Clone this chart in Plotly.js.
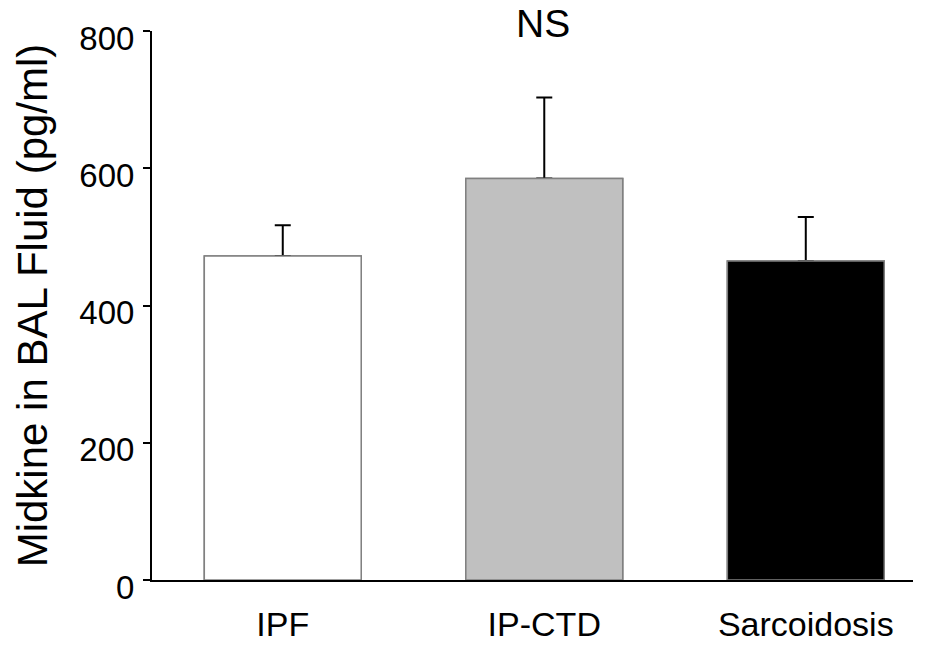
<!DOCTYPE html>
<html>
<head>
<meta charset="utf-8">
<script src="https://cdn.plot.ly/plotly-3.0.1.min.js"></script>
<style>html,body{margin:0;padding:0;background:#fff;}#chart{width:928px;height:647px;}</style>
</head>
<body>
<div id="chart"></div>
<script>
const categories = ['IPF', 'IP-CTD', 'Sarcoidosis'];
const means = [472, 585, 465];
const errors = [45, 118, 64];
const fillColors = ['#ffffff', '#c0c0c0', '#000000'];
const yTicks = [0, 200, 400, 600, 800];

const FONT = 'Liberation Sans, Arial, sans-serif';

const errTrace = {
  type: 'bar',
  x: categories,
  y: means,
  width: 0.6,
  marker: {color: fillColors, line: {color: '#808080', width: 1.5}},
  error_y: {
    type: 'data',
    symmetric: false,
    array: errors,
    arrayminus: errors.map(() => 0),
    color: '#000000',
    thickness: 2,
    width: 8
  },
  hoverinfo: 'skip',
  showlegend: false
};
const barTrace = {
  type: 'bar',
  x: categories,
  y: means,
  width: 0.6,
  marker: {color: fillColors, line: {color: '#808080', width: 1.5}},
  hoverinfo: 'skip',
  showlegend: false
};

const layout = {
  width: 928,
  height: 647,
  margin: {l: 152, r: 15, t: 31, b: 67},
  paper_bgcolor: '#ffffff',
  plot_bgcolor: '#ffffff',
  barmode: 'overlay',
  showlegend: false,
  font: {family: FONT, color: '#000000'},
  title: {
    text: 'NS',
    font: {family: FONT, size: 39, color: '#000000'},
    x: 0.514, xref: 'paper',
    xanchor: 'center',
    yref: 'container', y: 1 - 23 / 647, yanchor: 'middle'
  },
  xaxis: {
    type: 'category',
    range: [-0.5, 2.41],
    showline: true,
    linecolor: '#000000',
    linewidth: 2,
    ticks: '',
    showgrid: false,
    zeroline: false,
    tickfont: {family: FONT, size: 34, color: '#000000'},
    ticklabelstandoff: 13
  },
  yaxis: {
    range: [0, 800],
    tickvals: yTicks,
    ticktext: yTicks.map(String),
    showline: true,
    linecolor: '#000000',
    linewidth: 2,
    ticks: 'outside',
    ticklen: 7,
    tickwidth: 2,
    tickcolor: '#000000',
    showgrid: false,
    zeroline: false,
    tickfont: {family: FONT, size: 33, color: '#000000'},
    ticklabelstandoff: 2,
    ticklabelshift: 7,
    title: {
      text: 'Midkine in BAL Fluid (pg/ml)',
      font: {family: FONT, size: 42, color: '#000000'},
      standoff: 19
    }
  }
};

Plotly.newPlot('chart', [errTrace, barTrace], layout, {staticPlot: true, displayModeBar: false});
</script>
</body>
</html>
